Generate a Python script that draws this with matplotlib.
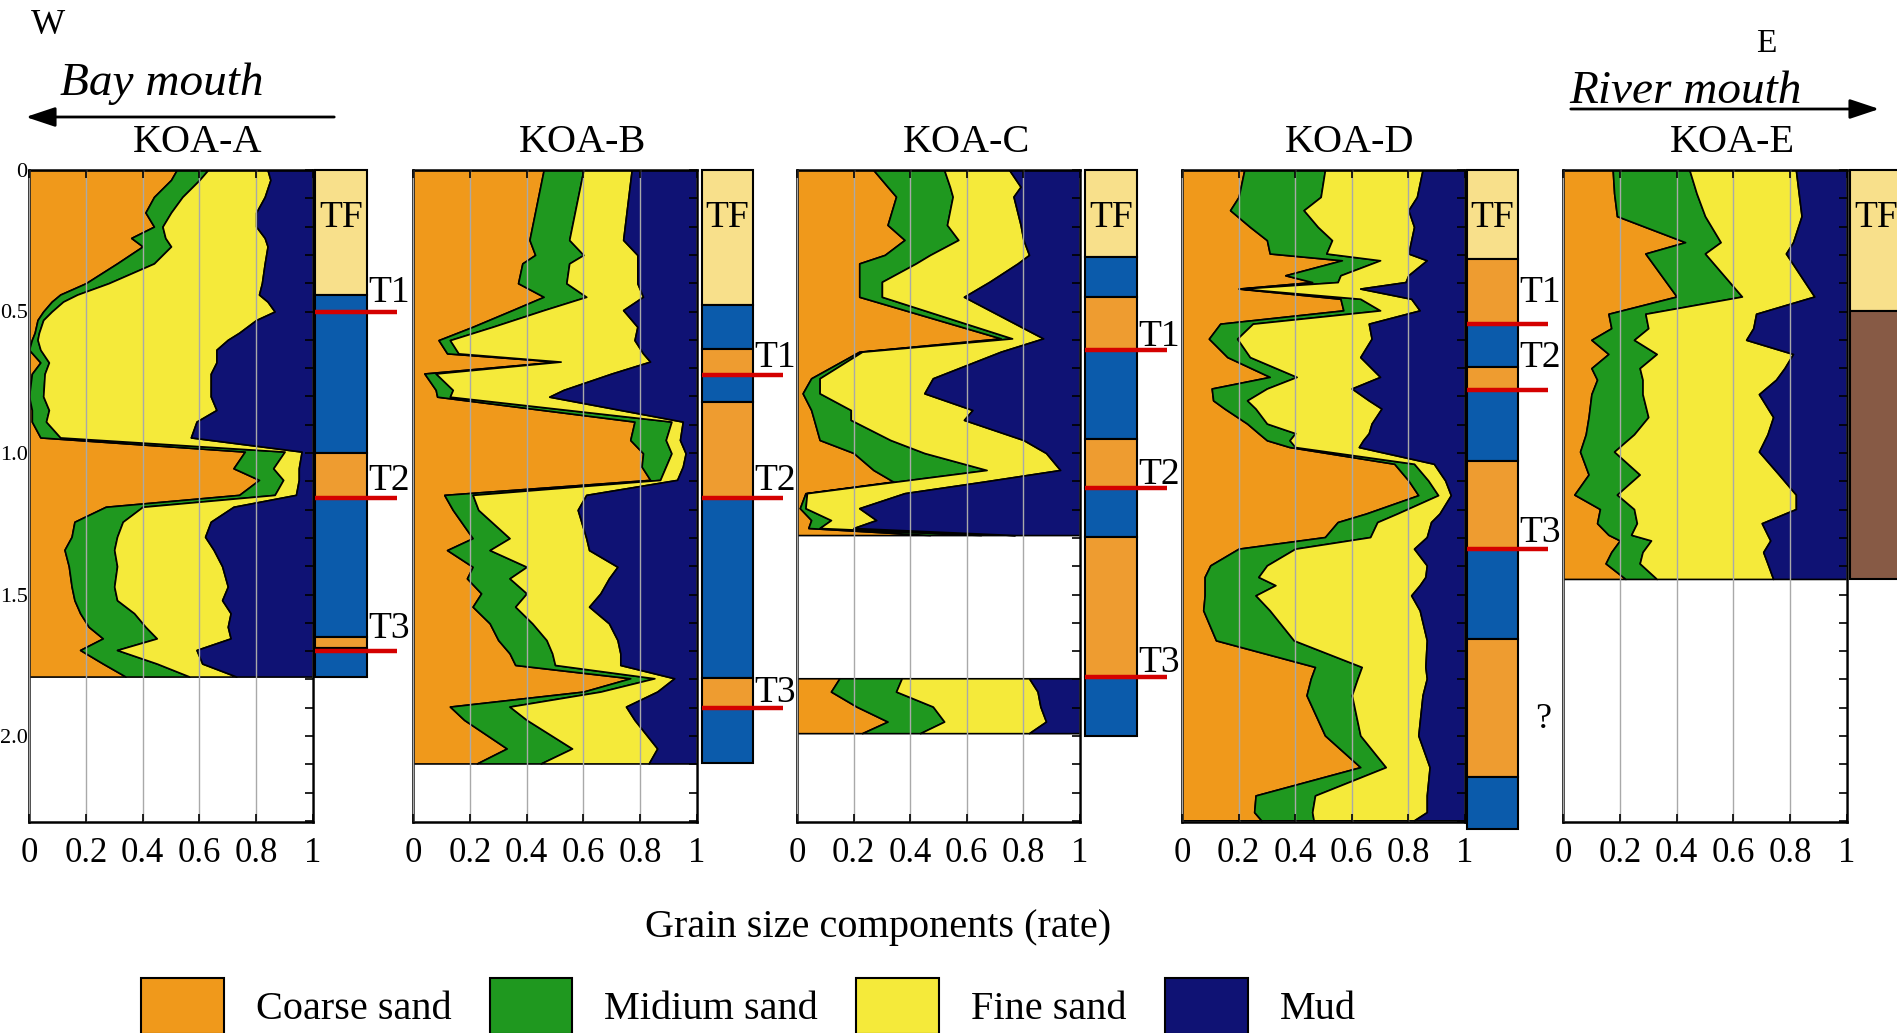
import numpy as np
import matplotlib
matplotlib.use("Agg")
import matplotlib.pyplot as plt
from matplotlib.patches import Patch, FancyArrowPatch
from matplotlib.ticker import MultipleLocator

plt.rcParams["font.family"] = ["Liberation Serif", "DejaVu Serif"]

# ---- grain size fractions (depth in m) ----
a_depth = [0.000, 0.035, 0.095, 0.150, 0.200, 0.240, 0.270, 0.330, 0.400, 0.440,
           0.465, 0.500, 0.530, 0.575, 0.600, 0.635, 0.680, 0.720, 0.800, 0.848,
           0.889, 0.945, 0.995, 1.054, 1.095, 1.148, 1.190, 1.243, 1.296, 1.342,
           1.400, 1.472, 1.520, 1.566, 1.614, 1.655, 1.696, 1.744, 1.790]
a_coarse = [0.52, 0.50, 0.44, 0.41, 0.44, 0.36, 0.40, 0.31, 0.20, 0.11,
            0.08, 0.05, 0.03, 0.02, 0.01, 0.00, 0.04, 0.01, 0.00, 0.01,
            0.01, 0.04, 0.76, 0.72, 0.81, 0.74, 0.27, 0.16, 0.15, 0.125,
            0.14, 0.15, 0.16, 0.18, 0.21, 0.26, 0.18, 0.26, 0.34]
a_medium = [0.11, 0.10, 0.10, 0.09, 0.03, 0.12, 0.10, 0.13, 0.08, 0.06,
            0.04, 0.03, 0.02, 0.015, 0.02, 0.04, 0.03, 0.045, 0.05, 0.06,
            0.05, 0.07, 0.14, 0.14, 0.085, 0.125, 0.13, 0.17, 0.16, 0.175,
            0.17, 0.15, 0.15, 0.19, 0.20, 0.19, 0.13, 0.19, 0.225]
a_fine = [0.21, 0.25, 0.29, 0.30, 0.33, 0.35, 0.34, 0.39, 0.54, 0.64,
          0.72, 0.785, 0.75, 0.705, 0.67, 0.62, 0.59, 0.585, 0.59, 0.59,
          0.53, 0.46, 0.06, 0.09, 0.055, 0.075, 0.32, 0.31, 0.31, 0.35,
          0.37, 0.40, 0.37, 0.34, 0.29, 0.26, 0.28, 0.16, 0.165]

b_depth = [0.000, 0.247, 0.300, 0.330, 0.400, 0.448, 0.495, 0.554, 0.601, 0.648,
           0.677, 0.719, 0.777, 0.801, 0.889, 0.954, 1.001, 1.048, 1.095, 1.148,
           1.201, 1.301, 1.343, 1.402, 1.443, 1.496, 1.543, 1.602, 1.661, 1.708,
           1.749, 1.796, 1.843, 1.896, 1.943, 2.044, 2.097]
b_coarse = [0.46, 0.41, 0.43, 0.385, 0.37, 0.46, 0.35, 0.21, 0.09, 0.12,
            0.51, 0.04, 0.08, 0.085, 0.78, 0.765, 0.81, 0.805, 0.835, 0.11,
            0.14, 0.21, 0.12, 0.21, 0.19, 0.24, 0.21, 0.27, 0.30, 0.34,
            0.36, 0.765, 0.60, 0.13, 0.18, 0.33, 0.225]
b_medium = [0.14, 0.14, 0.17, 0.165, 0.17, 0.15, 0.11, 0.07, 0.04, 0.04,
            0.01, 0.04, 0.06, 0.045, 0.13, 0.125, 0.10, 0.085, 0.035, 0.10,
            0.09, 0.13, 0.15, 0.19, 0.15, 0.16, 0.15, 0.15, 0.17, 0.15,
            0.14, 0.085, 0.06, 0.21, 0.22, 0.23, 0.225]
b_fine = [0.17, 0.19, 0.19, 0.24, 0.25, 0.20, 0.28, 0.51, 0.65, 0.65,
          0.315, 0.62, 0.39, 0.35, 0.04, 0.05, 0.05, 0.06, 0.06, 0.40,
          0.35, 0.27, 0.35, 0.32, 0.35, 0.26, 0.26, 0.27, 0.25, 0.24,
          0.23, 0.07, 0.20, 0.41, 0.38, 0.30, 0.38]

# KOA-C has a gap (no recovery) between ~1.29 and ~1.80 m
c_depth_top = [0.000, 0.059, 0.094, 0.194, 0.247, 0.300, 0.330, 0.395, 0.448, 0.595,
               0.642, 0.736, 0.789, 0.848, 0.883, 0.954, 1.000, 1.060, 1.101, 1.142,
               1.195, 1.237, 1.265, 1.290]
c_coarse_top = [0.27, 0.32, 0.35, 0.32, 0.38, 0.31, 0.22, 0.22, 0.22, 0.72,
                0.22, 0.05, 0.02, 0.05, 0.06, 0.08, 0.20, 0.27, 0.34, 0.03,
                0.01, 0.05, 0.04, 0.47]
c_medium_top = [0.25, 0.22, 0.20, 0.21, 0.19, 0.16, 0.20, 0.08, 0.08, 0.04,
                0.01, 0.03, 0.06, 0.14, 0.13, 0.25, 0.25, 0.40, 0.01, 0.005,
                0.02, 0.07, 0.04, 0.18]
c_fine_top = [0.23, 0.25, 0.215, 0.26, 0.23, 0.35, 0.36, 0.38, 0.29, 0.11,
              0.49, 0.40, 0.37, 0.43, 0.40, 0.47, 0.43, 0.26, 0.31, 0.345,
              0.19, 0.16, 0.12, 0.12]
c_depth_bot = [1.796, 1.843, 1.896, 1.949, 1.990]
c_coarse_bot = [0.15, 0.12, 0.21, 0.32, 0.23]
c_medium_bot = [0.22, 0.23, 0.27, 0.20, 0.205]
c_fine_bot = [0.45, 0.50, 0.38, 0.36, 0.385]

d_depth = [0.000, 0.095, 0.142, 0.201, 0.248, 0.295, 0.319, 0.372, 0.396, 0.419,
           0.455, 0.496, 0.543, 0.596, 0.661, 0.731, 0.772, 0.814, 0.843, 0.896,
           0.930, 0.955, 0.979, 1.038, 1.097, 1.149, 1.214, 1.244, 1.297, 1.338,
           1.397, 1.438, 1.467, 1.503, 1.556, 1.662, 1.756, 1.797, 1.856, 1.998,
           2.110, 2.210, 2.269, 2.298]
d_coarse = [0.22, 0.20, 0.17, 0.24, 0.30, 0.31, 0.565, 0.365, 0.46, 0.20,
            0.56, 0.57, 0.135, 0.095, 0.16, 0.31, 0.105, 0.11, 0.15, 0.23,
            0.27, 0.30, 0.38, 0.75, 0.80, 0.835, 0.65, 0.55, 0.505, 0.20,
            0.10, 0.08, 0.08, 0.08, 0.075, 0.12, 0.47, 0.455, 0.44, 0.505,
            0.63, 0.26, 0.255, 0.28]
d_medium = [0.285, 0.29, 0.26, 0.24, 0.23, 0.20, 0.135, 0.195, 0.09, 0.01,
            0.07, 0.13, 0.115, 0.10, 0.08, 0.095, 0.195, 0.12, 0.11, 0.07,
            0.13, 0.08, 0.02, 0.07, 0.07, 0.07, 0.11, 0.14, 0.16, 0.20,
            0.20, 0.19, 0.25, 0.18, 0.235, 0.275, 0.165, 0.165, 0.16, 0.125,
            0.09, 0.21, 0.205, 0.185]
d_fine = [0.345, 0.34, 0.37, 0.34, 0.28, 0.29, 0.165, 0.24, 0.24, 0.42,
          0.18, 0.14, 0.41, 0.475, 0.39, 0.295, 0.30, 0.43, 0.445, 0.37,
          0.26, 0.26, 0.225, 0.07, 0.06, 0.045, 0.15, 0.19, 0.20, 0.42,
          0.565, 0.59, 0.51, 0.55, 0.53, 0.47, 0.225, 0.245, 0.25, 0.205,
          0.155, 0.395, 0.405, 0.355]

e_depth = [0.000, 0.082, 0.163, 0.255, 0.295, 0.447, 0.508, 0.559, 0.600, 0.650,
           0.700, 0.741, 0.792, 0.873, 0.934, 0.995, 1.076, 1.147, 1.198, 1.248,
           1.289, 1.309, 1.350, 1.390, 1.445]
e_coarse = [0.175, 0.18, 0.19, 0.43, 0.29, 0.40, 0.16, 0.17, 0.10, 0.16,
            0.10, 0.12, 0.10, 0.09, 0.08, 0.06, 0.09, 0.04, 0.13, 0.12,
            0.16, 0.20, 0.17, 0.15, 0.22]
e_medium = [0.27, 0.29, 0.31, 0.125, 0.21, 0.23, 0.13, 0.13, 0.15, 0.17,
            0.17, 0.16, 0.18, 0.21, 0.17, 0.12, 0.18, 0.15, 0.12, 0.14,
            0.08, 0.11, 0.11, 0.12, 0.11]
e_fine = [0.375, 0.36, 0.34, 0.255, 0.285, 0.255, 0.39, 0.37, 0.395, 0.48,
          0.51, 0.47, 0.41, 0.44, 0.47, 0.51, 0.49, 0.63, 0.57, 0.44,
          0.48, 0.42, 0.425, 0.45, 0.41]

# ---- facies columns: layer boundaries (m) and unit of each layer ----
a_layers = [0, 0.442, 1.0, 1.16, 1.65, 1.69, 1.79]
a_units = ["TF", "mud", "sand", "mud", "sand", "mud"]
b_layers = [0, 0.477, 0.634, 0.725, 0.82, 1.16, 1.795, 1.90, 2.097]
b_units = ["TF", "mud", "sand", "mud", "sand", "mud", "sand", "mud"]
c_layers = [0, 0.306, 0.45, 0.636, 0.95, 1.125, 1.296, 1.79, 2.0]
c_units = ["TF", "mud", "sand", "mud", "sand", "mud", "sand", "mud"]
d_layers = [0, 0.313, 0.543, 0.696, 0.776, 1.03, 1.34, 1.656, 2.145, 2.33]
d_units = ["TF", "sand", "mud", "sand", "mud", "sand", "mud", "sand", "mud"]
e_layers = [0, 0.498, 1.445]
e_units = ["TF", "peat"]

# event horizons T1-T3 (m)
a_events = [0.50, 1.16, 1.70]
b_events = [0.724, 1.159, 1.901]
c_events = [0.636, 1.124, 1.792]
d_events = [0.544, 0.777, 1.339]

comp_names = ["Coarse sand", "Midium sand", "Fine sand", "Mud"]
comp_cols = ["#f0991b", "#1f981f", "#f5ea3a", "#0f1274"]
unit_cols = {"TF": "#f8e08b", "mud": "#0b5bab", "sand": "#ee9c30", "peat": "#875a45"}

W, H = 1897, 1033
TOP, BOT = 170, 822
DMAX = (BOT - TOP) / 283.0


def fx(px):
    return px / W


def fy(py):
    return 1 - py / H


def rect(x0, x1):
    return [fx(x0), fy(BOT), (x1 - x0) / W, (BOT - TOP) / H]


panels = [
    dict(name="KOA-A", main=(29, 313), strip=(315, 367),
         segs=[(a_depth, a_coarse, a_medium, a_fine)],
         layers=a_layers, units=a_units, events=a_events, ev_text=[0.466, 1.131, 1.654]),
    dict(name="KOA-B", main=(413, 697), strip=(702, 753),
         segs=[(b_depth, b_coarse, b_medium, b_fine)],
         layers=b_layers, units=b_units, events=b_events, ev_text=[0.696, 1.131, 1.88]),
    dict(name="KOA-C", main=(797, 1080), strip=(1085, 1137),
         segs=[(c_depth_top, c_coarse_top, c_medium_top, c_fine_top),
               (c_depth_bot, c_coarse_bot, c_medium_bot, c_fine_bot)],
         layers=c_layers, units=c_units, events=c_events, ev_text=[0.622, 1.11, 1.774]),
    dict(name="KOA-D", main=(1182, 1465), strip=(1467, 1518),
         segs=[(d_depth, d_coarse, d_medium, d_fine)],
         layers=d_layers, units=d_units, events=d_events, ev_text=[0.466, 0.696, 1.314]),
    dict(name="KOA-E", main=(1563, 1847), strip=(1850, 1902),
         segs=[(e_depth, e_coarse, e_medium, e_fine)],
         layers=e_layers, units=e_units, events=[], ev_text=[]),
]

fig = plt.figure(figsize=(W / 100, H / 100), dpi=100)
fig.patch.set_facecolor("white")

for i, p in enumerate(panels):
    ax = fig.add_axes(rect(*p["main"]))
    for dep, co, me, fi in p["segs"]:
        dep = np.array(dep)
        b1 = np.array(co)
        b2 = b1 + np.array(me)
        b3 = b2 + np.array(fi)
        edges = [np.zeros_like(dep), b1, b2, b3, np.ones_like(dep)]
        for k in range(4):
            ax.fill_betweenx(dep, edges[k], edges[k + 1], facecolor=comp_cols[k],
                             edgecolor="black", linewidth=1.2)
    ax.set_xlim(0, 1)
    ax.set_ylim(DMAX, 0)
    ax.set_xticks(np.arange(0, 1.01, 0.2))
    ax.set_xticklabels(["0", "0.2", "0.4", "0.6", "0.8", "1"])
    ax.set_yticks([0, 0.5, 1.0, 1.5, 2.0])
    ax.set_yticklabels(["0", "0.5", "1.0", "1.5", "2.0"])
    ax.yaxis.set_minor_locator(MultipleLocator(0.1))
    ax.tick_params(axis="x", direction="in", top=True, length=6, width=1.2,
                   labelsize=25, pad=11)
    ax.tick_params(axis="y", which="both", direction="in", left=False, right=True,
                   length=6, width=1.2, labelleft=(i == 0), labelsize=16, pad=1)
    ax.grid(axis="x", color="#a9a9a9", linewidth=1.0)
    ax.set_axisbelow(False)
    for s in ax.spines.values():
        s.set_linewidth(1.8)

    # facies column
    sx = fig.add_axes(rect(*p["strip"]))
    sx.set_xlim(0, 1)
    sx.set_ylim(DMAX, 0)
    sx.axis("off")
    tops = np.array(p["layers"][:-1])
    bots = np.array(p["layers"][1:])
    sx.bar(0.5, bots - tops, bottom=tops, width=1,
           color=[unit_cols[u] for u in p["units"]],
           edgecolor="black", linewidth=1.5, clip_on=False)
    sx.text(0.5, 0.17, "TF", ha="center", va="center", fontsize=27, clip_on=False)
    for k, (dep, lab) in enumerate(zip(p["events"], p["ev_text"])):
        sx.hlines(dep, 0, 1.58, color="#d40000", linewidth=3.2, clip_on=False, zorder=5)
        sx.text(1.03, lab, "T%d" % (k + 1), ha="left", va="baseline", fontsize=27,
                clip_on=False)
    if p["name"] == "KOA-D":
        sx.text(1.49, 1.94, "?", ha="center", va="center", fontsize=26, clip_on=False)

    fig.text(fx((p["main"][0] + p["strip"][1]) / 2), fy(143), p["name"],
             ha="center", va="center", fontsize=29)

fig.text(fx(878), fy(928), "Grain size components (rate)",
         ha="center", va="center", fontsize=29)

# direction annotations
fig.text(fx(48), fy(25), "W", ha="center", va="center", fontsize=26)
fig.text(fx(1766), fy(44), "E", ha="center", va="center", fontsize=24)
fig.text(fx(60), fy(95), "Bay mouth", ha="left", va="baseline", fontsize=34,
         fontstyle="italic")
fig.text(fx(1569), fy(103), "River mouth", ha="left", va="baseline", fontsize=34,
         fontstyle="italic")
arrow_style = "-|>,head_length=0.6,head_width=0.2"
fig.add_artist(FancyArrowPatch((fx(337), fy(117)), (fx(23), fy(117)),
                               transform=fig.transFigure, arrowstyle=arrow_style,
                               mutation_scale=30, linewidth=2, color="black"))
fig.add_artist(FancyArrowPatch((fx(1568), fy(109)), (fx(1882), fy(109)),
                               transform=fig.transFigure, arrowstyle=arrow_style,
                               mutation_scale=30, linewidth=2, color="black"))

handles = [Patch(facecolor=c, edgecolor="black", linewidth=1.5, label=n)
           for n, c in zip(comp_names, comp_cols)]
fig.legend(handles=handles, loc="center left", bbox_to_anchor=(fx(141), fy(1006)),
           ncol=4, frameon=False, fontsize=29, handlelength=2.05, handleheight=1.75,
           handletextpad=0.8, columnspacing=0.95, borderpad=0, borderaxespad=0)

fig.savefig("out.png", dpi=100, facecolor="white")
